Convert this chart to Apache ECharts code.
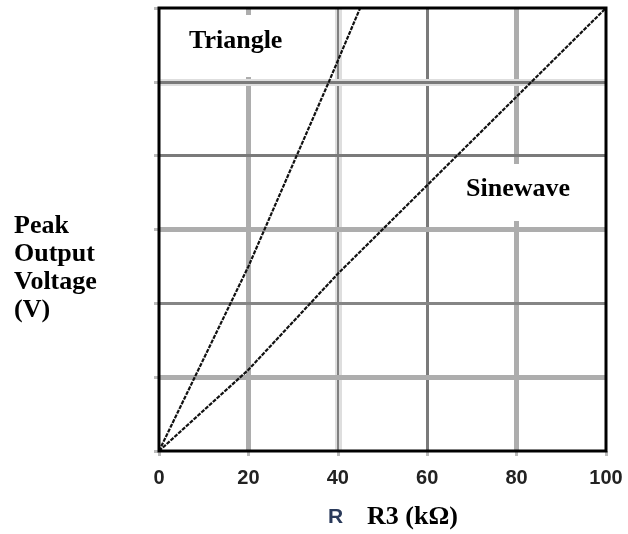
<!DOCTYPE html>
<html>
<head>
<meta charset="utf-8">
<script src="https://cdn.jsdelivr.net/npm/echarts@6/dist/echarts.min.js"></script>
<style>
    html, body {margin: 0; padding: 0; background: #fff;}
    #chart {width: 628px; height: 534px;}
</style>
</head>
<body>
<div id="chart"></div>
<script>
// values
const xTicks = [0, 20, 40, 60, 80, 100]
const gridX = [20, 40, 60, 80]
const gridY = [1, 2, 3, 4, 5]

const triangleR = [0, 20, 38, 45]
const triangleV = [0, 2.5, 5.0, 6.0]

const sineR = [0, 20, 40, 60, 80, 100]
const sineV = [0, 1.1, 2.4, 3.6, 4.8, 6.0]

const serif = '"Liberation Serif", "Times New Roman", serif'

// grid line look, the picture mixes thin dark and thick light lines
const darkLine = {color: '#7a7a7a', width: 3, type: 'solid'}
const lightLine = {color: '#adadad', width: 5, type: 'solid'}
const haloLine = {color: '#dedede', width: 7, type: 'solid'}

const vStyles = {20: [lightLine], 40: [haloLine, {color: '#808080', width: 2, type: 'solid'}], 60: [darkLine], 80: [lightLine]}
const hStyles = {1: [lightLine], 2: [{color: '#858585', width: 3, type: 'solid'}], 3: [lightLine], 4: [darkLine], 5: [haloLine, darkLine]}

const gridMarks = []
gridX.forEach(v => {
    vStyles[v].forEach(st => gridMarks.push({xAxis: v, lineStyle: st}))
})
gridY.forEach(v => {
    hStyles[v].forEach(st => gridMarks.push({yAxis: v, lineStyle: st}))
})

// the curves look like a dark line with a dotted texture
const curveStyle = {color: '#111', width: 2.2, type: [4, 1.2]}

const chart = echarts.init(document.getElementById('chart'))

const option = {
    animation: false,
    grid: {
        left: 159,
        right: 22,
        top: 8,
        bottom: 83,
        show: true,
        borderColor: '#000',
        borderWidth: 3,
        z: 5
    },
    xAxis: {
        type: 'value',
        min: 0,
        max: 100,
        interval: 20,
        axisLine: {show: false},
        axisTick: {show: true, length: 5, lineStyle: {color: '#bbb', width: 3}},
        splitLine: {show: false},
        axisLabel: {
            margin: 17,
            color: '#222',
            fontFamily: 'Arial, "Liberation Sans", sans-serif',
            fontWeight: 'bold',
            fontSize: 20,
            customValues: xTicks
        }
    },
    yAxis: {
        type: 'value',
        min: 0,
        max: 6,
        interval: 1,
        axisLine: {show: false},
        axisTick: {show: true, length: 5, lineStyle: {color: '#bbb', width: 3}},
        splitLine: {show: false},
        axisLabel: {show: false}
    },
    series: [
        {
            name: 'Sinewave',
            type: 'line',
            data: sineR.map((r, i) => [r, sineV[i]]),
            symbol: 'none',
            z: 3,
            lineStyle: curveStyle,
            markLine: {
                silent: true,
                symbol: 'none',
                label: {show: false},
                z: 1,
                data: gridMarks
            }
        },
        {
            name: 'Triangle',
            type: 'line',
            data: triangleR.map((r, i) => [r, triangleV[i]]),
            symbol: 'none',
            z: 3,
            lineStyle: curveStyle
        }
    ],
    graphic: [
        // white boxes behind the in-plot labels
        {type: 'rect', z: 2, silent: true, shape: {x: 163, y: 15, width: 157, height: 62}, style: {fill: '#fff'}},
        {type: 'rect', z: 2, silent: true, shape: {x: 460, y: 164, width: 143, height: 57}, style: {fill: '#fff'}},
        {type: 'text', z: 10, left: 189, top: 28, style: {text: 'Triangle', font: 'bold 26px ' + serif, fill: '#000'}},
        {type: 'text', z: 10, left: 466, top: 176, style: {text: 'Sinewave', font: 'bold 26px ' + serif, fill: '#000'}},
        {
            type: 'text', z: 10, left: 14, top: 212,
            style: {text: 'Peak\nOutput\nVoltage\n(V)', font: 'bold 26px ' + serif, lineHeight: 28, fill: '#000'}
        },
        {type: 'text', z: 10, left: 328, top: 507, style: {text: 'R', font: 'bold 21px Arial, "Liberation Sans", sans-serif', fill: '#2a3a5a'}},
        {type: 'text', z: 10, left: 367, top: 504, style: {text: 'R3 (kΩ)', font: 'bold 26px ' + serif, fill: '#000'}}
    ]
}

chart.setOption(option)
</script>
</body>
</html>
